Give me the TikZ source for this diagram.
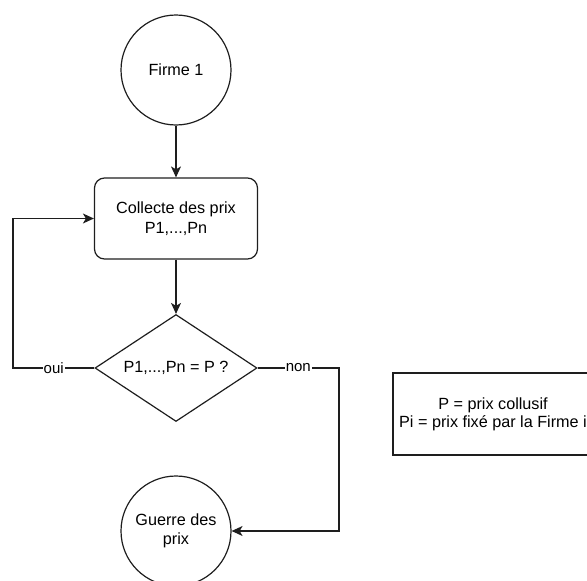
\documentclass[tikz,border=0pt]{standalone}
\usepackage{fontspec}
\setmainfont{Liberation Sans}
\usepackage{tikz}
\usetikzlibrary{arrows.meta,shapes.geometric,positioning}
\definecolor{linecol}{RGB}{30,30,30}
\tikzset{
  % round start / end node
  startnode/.style={circle, draw=linecol, line width=1.2pt, minimum size=110pt, inner sep=0pt,
                    align=center, font=\fontsize{16.2}{19.4}\selectfont},
  % process box
  procbox/.style={rectangle, rounded corners=10pt, draw=linecol, line width=1.2pt,
                  minimum width=163pt, minimum height=81pt, align=center,
                  font=\fontsize{16.2}{19.4}\selectfont},
  % decision node
  testnode/.style={diamond, aspect=1.5, draw=linecol, line width=1.2pt, minimum width=162pt,
                   minimum height=107pt, inner sep=0pt, align=center,
                   font=\fontsize{16.2}{19.4}\selectfont},
  % legend box
  legbox/.style={rectangle, draw=linecol, line width=1.2pt, minimum width=200pt,
                 minimum height=82pt, align=center, font=\fontsize{16.2}{18}\selectfont},
  % flow arrow
  flowarrow/.style={-{Stealth[length=11pt,width=10pt,inset=3pt]}, line width=1.2pt, draw=linecol},
  % edge label
  edgelabel/.style={fill=white, inner sep=1pt, font=\fontsize{15}{17}\selectfont},
}
\begin{document}
\begin{tikzpicture}[x=1pt,y=1pt]
  \clip (0,0) rectangle (587,-581);

  % main flow
  \node[startnode] (firm) at (176,-70) {Firme 1};
  \node[procbox] (collect) at (176,-218.5) {Collecte des prix\\P1,...,Pn};
  \node[testnode] (test) at (176,-368) {P1,...,Pn = P ?};
  \node[startnode] (war) at (176,-531) {Guerre des\\prix};

  % legend
  \node[legbox] (legend) at (493,-414) {P = prix collusif\\Pi = prix fixé par la Firme i};

  % corners of the side branches
  \coordinate (loopx) at (13,0);
  \coordinate (nonx) at (339,0);

  \draw[flowarrow] (firm) -- (collect);
  \draw[flowarrow] (collect) -- (test);
  \draw[flowarrow] (test.west) -- node[edgelabel]{oui} (test.west -| loopx) |- (collect.west);
  \draw[flowarrow] (test.east) -- node[edgelabel]{non} (test.east -| nonx) |- (war.east);
\end{tikzpicture}
\end{document}
